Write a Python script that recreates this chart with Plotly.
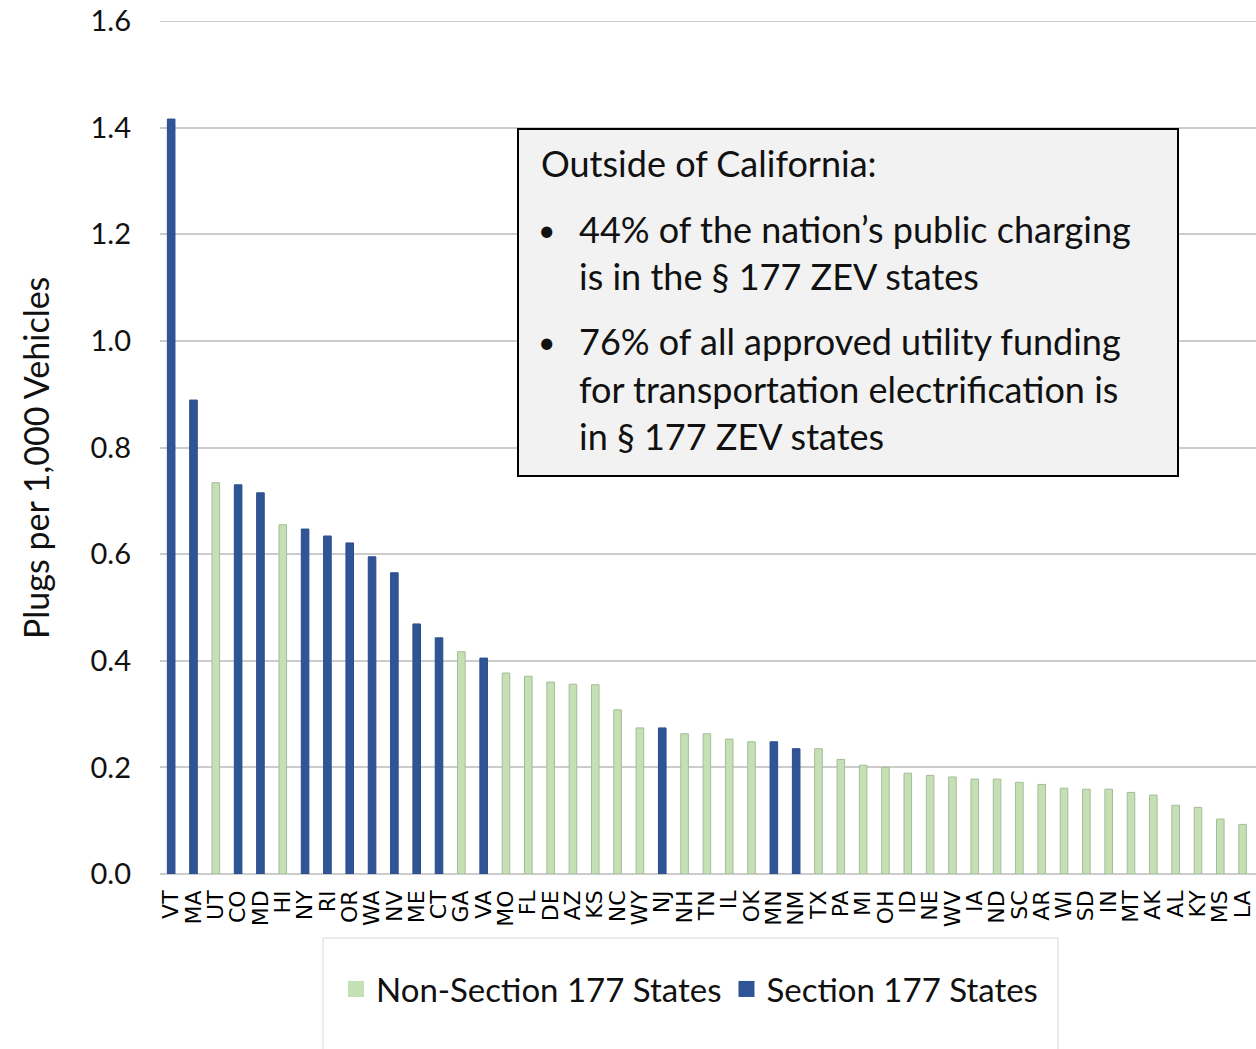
import plotly.graph_objects as go

states = ["VT","MA","UT","CO","MD","HI","NY","RI","OR","WA","NV","ME","CT","GA","VA",
          "MO","FL","DE","AZ","KS","NC","WY","NJ","NH","TN","IL","OK","MN","NM","TX",
          "PA","MI","OH","ID","NE","WV","IA","ND","SC","AR","WI","SD","IN","MT","AK",
          "AL","KY","MS","LA"]
plugs = [1.416,0.889,0.734,0.730,0.715,0.655,0.647,0.634,0.621,0.595,0.565,0.469,0.443,0.417,0.405,
         0.377,0.371,0.360,0.356,0.355,0.308,0.274,0.274,0.263,0.263,0.253,0.248,0.248,0.235,0.235,
         0.215,0.204,0.200,0.189,0.185,0.182,0.178,0.178,0.172,0.168,0.161,0.159,0.159,0.153,0.148,
         0.129,0.125,0.103,0.093]
section177 = ["VT","MA","CO","MD","NY","RI","OR","WA","NV","ME","CT","VA","NJ","MN","NM"]
y_ticks = [0, 0.2, 0.4, 0.6, 0.8, 1.0, 1.2, 1.4, 1.6]

box_title = "Outside of California:"
bullet1 = ["44% of the nation’s public charging", "is in the § 177 ZEV states"]
bullet2 = ["76% of all approved utility funding", "for transportation electrification is", "in § 177 ZEV states"]

W, H = 1256, 1049
L, R, T, B = 160, 0, 21, 175
PW, PH = W - L - R, H - T - B

def px(x):
    return (x - L) / PW

def py(y):
    return (H - B - y) / PH

BLUE = "#2f5597"
GREEN = "#c5e0b4"
GRID = "#cccccc"
FONT = "Lato"

g_x = [s for s in states if s not in section177]
g_y = [v for s, v in zip(states, plugs) if s not in section177]
b_x = [s for s in states if s in section177]
b_y = [v for s, v in zip(states, plugs) if s in section177]

fig = go.Figure()
fig.add_trace(go.Bar(x=g_x, y=g_y, name="Non-Section 177 States", width=0.34, showlegend=False,
                     marker=dict(color=GREEN, line=dict(color="#a3bd97", width=1))))
fig.add_trace(go.Bar(x=b_x, y=b_y, name="Section 177 States", width=0.34, showlegend=False,
                     marker=dict(color=BLUE, line=dict(color="#2a4c88", width=1))))
# legend entries with larger square symbols
fig.add_trace(go.Scatter(x=[None], y=[None], mode="markers", name="Non-Section 177 States",
                         marker=dict(symbol="square", size=20, color=GREEN)))
fig.add_trace(go.Scatter(x=[None], y=[None], mode="markers", name="Section 177 States",
                         marker=dict(symbol="square", size=20, color=BLUE)))

shapes = [
    # top gridline (at the edge of the plot area)
    dict(type="line", xref="paper", yref="y", x0=0, x1=1, y0=y_ticks[-1], y1=y_ticks[-1],
         line=dict(color=GRID, width=2), layer="below"),
    dict(type="rect", xref="paper", yref="paper", x0=px(518), x1=px(1178), y0=py(476), y1=py(129),
         fillcolor="#f2f2f2", line=dict(color="black", width=2), layer="above"),
    dict(type="rect", xref="paper", yref="paper", x0=px(323), x1=px(1058), y0=py(1070), y1=py(938),
         fillcolor="rgba(0,0,0,0)", line=dict(color="#d9d9d9", width=1)),
]

TF = dict(family=FONT, size=36, color="#111111")
ann = []
ann.append(dict(text=box_title, x=px(539), y=py(163), xanchor="left", yanchor="middle"))
ann.append(dict(text="•", x=px(546), y=py(229), xanchor="center", yanchor="middle",
                font=dict(family=FONT, size=30, color="#111111")))
ann.append(dict(text="•", x=px(546), y=py(341), xanchor="center", yanchor="middle",
                font=dict(family=FONT, size=30, color="#111111")))
for i, t in enumerate(bullet1):
    ann.append(dict(text=t, x=px(577), y=py(229 + 47 * i), xanchor="left", yanchor="middle"))
for i, t in enumerate(bullet2):
    ann.append(dict(text=t, x=px(577), y=py(341 + 47.5 * i), xanchor="left", yanchor="middle"))
for a in ann:
    a.update(xref="paper", yref="paper", showarrow=False)
    a.setdefault("font", TF)
ann.append(dict(text="Plugs per 1,000 Vehicles", x=px(35), y=py(458), xref="paper", yref="paper",
                showarrow=False, textangle=-90, xanchor="center", yanchor="middle",
                font=dict(family=FONT, size=34, color="#111111")))

fig.update_layout(
    width=W, height=H,
    margin=dict(l=L, r=R, t=T, b=B, autoexpand=False),
    paper_bgcolor="white", plot_bgcolor="white",
    barmode="overlay",
    showlegend=True,
    legend=dict(orientation="h", x=px(336), y=py(989), xanchor="left", yanchor="middle",
                font=dict(family=FONT, size=33, color="#111111"), traceorder="normal",
                itemsizing="trace", bgcolor="rgba(0,0,0,0)"),
    shapes=shapes,
    annotations=ann,
    xaxis=dict(type="category", categoryorder="array", categoryarray=states,
               tickmode="array", tickvals=states, ticktext=states,
               range=[-0.5, 48.6], tickangle=-90, showgrid=False, showline=False,
               ticks="", ticklabelstandoff=11,
               tickfont=dict(family="DejaVu Sans", size=22, color="black")),
    yaxis=dict(range=[0, 1.6], tickmode="array", tickvals=y_ticks,
               tickformat=".1f", showgrid=True,
               gridcolor=GRID, gridwidth=2, zeroline=True, zerolinecolor=GRID,
               zerolinewidth=2, showline=False, ticks="", ticklabelstandoff=28,
               tickfont=dict(family=FONT, size=29, color="#111111")),
)

fig.write_html("out.html", config={"displayModeBar": False},
               post_script="document.body.style.margin='0';")
